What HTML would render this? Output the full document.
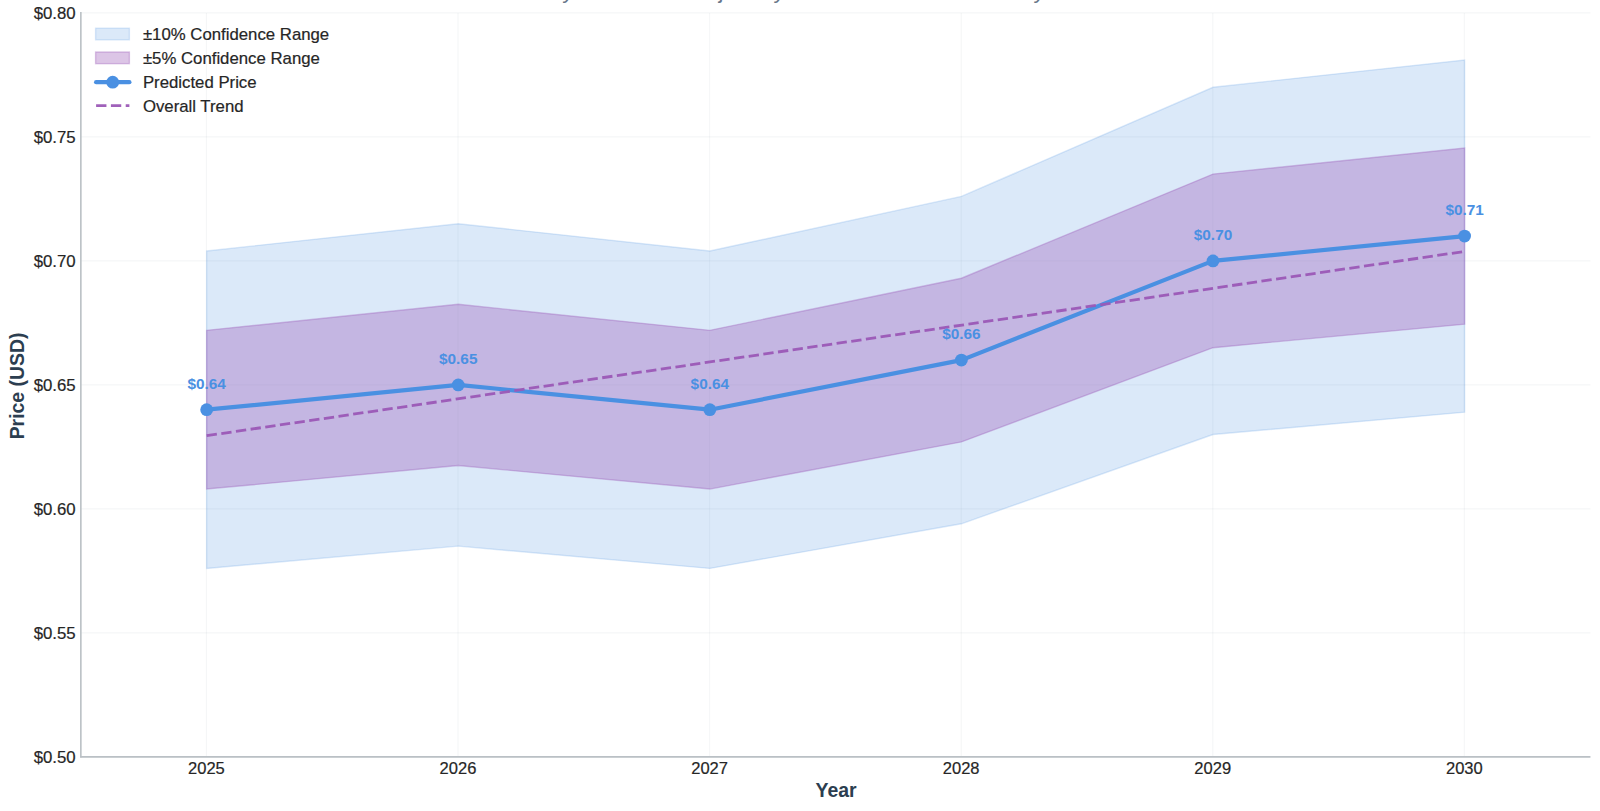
<!DOCTYPE html>
<html lang="en"><head><meta charset="utf-8"><title>Price Prediction Chart</title>
<style>
html,body{margin:0;padding:0;background:#fff;}
body{width:1600px;height:811px;overflow:hidden;font-family:"Liberation Sans",sans-serif;}
svg{display:block;font-family:"Liberation Sans",sans-serif;}
</style></head><body>
<svg width="1600" height="811" viewBox="0 0 1600 811">
<rect width="1600" height="811" fill="#ffffff"/>
<text x="511.7" y="-1.6" font-size="22.5" fill="#66778a">Yearly Estimated Trajectory with Forecast Uncertainty Intervals</text>
<g stroke="#b0b8bf" stroke-opacity="0.12" stroke-width="1.12"><line x1="206.45" x2="206.45" y1="12.90" y2="756.90"/><line x1="458.04" x2="458.04" y1="12.90" y2="756.90"/><line x1="709.63" x2="709.63" y1="12.90" y2="756.90"/><line x1="961.22" x2="961.22" y1="12.90" y2="756.90"/><line x1="1212.81" x2="1212.81" y1="12.90" y2="756.90"/><line x1="1464.40" x2="1464.40" y1="12.90" y2="756.90"/><line x1="80.85" x2="1590.40" y1="756.90" y2="756.90"/><line x1="80.85" x2="1590.40" y1="632.90" y2="632.90"/><line x1="80.85" x2="1590.40" y1="508.90" y2="508.90"/><line x1="80.85" x2="1590.40" y1="384.90" y2="384.90"/><line x1="80.85" x2="1590.40" y1="260.90" y2="260.90"/><line x1="80.85" x2="1590.40" y1="136.90" y2="136.90"/><line x1="80.85" x2="1590.40" y1="12.90" y2="12.90"/></g>
<polygon points="206.65,250.98 458.24,223.70 709.83,250.98 961.42,196.42 1213.01,87.30 1464.60,60.02 1464.60,412.18 1213.01,434.50 961.42,523.78 709.83,568.42 458.24,546.10 206.65,568.42" fill="#4a90e2" fill-opacity="0.2" stroke="#4a90e2" stroke-opacity="0.2" stroke-width="1.39"/>
<polygon points="206.65,330.34 458.24,304.30 709.83,330.34 961.42,278.26 1213.01,174.10 1464.60,148.06 1464.60,324.14 1213.01,347.70 961.42,441.94 709.83,489.06 458.24,465.50 206.65,489.06" fill="#9b59b6" fill-opacity="0.35" stroke="#9b59b6" stroke-opacity="0.35" stroke-width="1.39"/>
<polyline points="206.65,409.70 458.24,384.90 709.83,409.70 961.42,360.10 1213.01,260.90 1464.60,236.10" fill="none" stroke="#4a90e2" stroke-width="4.19" stroke-linejoin="round" stroke-linecap="butt"/>
<circle cx="206.65" cy="409.70" r="6.38" fill="#4a90e2"/>
<circle cx="458.24" cy="384.90" r="6.38" fill="#4a90e2"/>
<circle cx="709.83" cy="409.70" r="6.38" fill="#4a90e2"/>
<circle cx="961.42" cy="360.10" r="6.38" fill="#4a90e2"/>
<circle cx="1213.01" cy="260.90" r="6.38" fill="#4a90e2"/>
<circle cx="1464.60" cy="236.10" r="6.38" fill="#4a90e2"/>
<line x1="206.65" y1="435.68" x2="1464.60" y2="251.45" stroke="#9b59b6" stroke-opacity="0.95" stroke-width="2.8" stroke-dasharray="10.336 4.47"/>
<line x1="80.85" x2="80.85" y1="12.10" y2="757.60" stroke="#bac0c5" stroke-width="1.6"/>
<line x1="80.15" x2="1590.40" y1="756.90" y2="756.90" stroke="#bac0c5" stroke-width="1.6"/>
<text x="75.6" y="763.00" text-anchor="end" font-size="16.77" fill="#262626" stroke="#262626" stroke-width="0.2">$0.50</text>
<text x="75.6" y="639.00" text-anchor="end" font-size="16.77" fill="#262626" stroke="#262626" stroke-width="0.2">$0.55</text>
<text x="75.6" y="515.00" text-anchor="end" font-size="16.77" fill="#262626" stroke="#262626" stroke-width="0.2">$0.60</text>
<text x="75.6" y="391.00" text-anchor="end" font-size="16.77" fill="#262626" stroke="#262626" stroke-width="0.2">$0.65</text>
<text x="75.6" y="267.00" text-anchor="end" font-size="16.77" fill="#262626" stroke="#262626" stroke-width="0.2">$0.70</text>
<text x="75.6" y="143.00" text-anchor="end" font-size="16.77" fill="#262626" stroke="#262626" stroke-width="0.2">$0.75</text>
<text x="75.6" y="19.00" text-anchor="end" font-size="16.77" fill="#262626" stroke="#262626" stroke-width="0.2">$0.80</text>
<text x="206.40" y="773.6" text-anchor="middle" font-size="16.55" fill="#262626" stroke="#262626" stroke-width="0.2">2025</text>
<text x="457.99" y="773.6" text-anchor="middle" font-size="16.55" fill="#262626" stroke="#262626" stroke-width="0.2">2026</text>
<text x="709.58" y="773.6" text-anchor="middle" font-size="16.55" fill="#262626" stroke="#262626" stroke-width="0.2">2027</text>
<text x="961.17" y="773.6" text-anchor="middle" font-size="16.55" fill="#262626" stroke="#262626" stroke-width="0.2">2028</text>
<text x="1212.76" y="773.6" text-anchor="middle" font-size="16.55" fill="#262626" stroke="#262626" stroke-width="0.2">2029</text>
<text x="1464.35" y="773.6" text-anchor="middle" font-size="16.55" fill="#262626" stroke="#262626" stroke-width="0.2">2030</text>
<text x="836.12" y="797.2" text-anchor="middle" font-size="19.44" font-weight="bold" fill="#2c3e50">Year</text>
<text transform="translate(24.1 385.90) rotate(-90)" text-anchor="middle" font-size="19.44" font-weight="bold" fill="#2c3e50">Price (USD)</text>
<text x="206.65" y="389.10" text-anchor="middle" font-size="15.37" font-weight="bold" fill="#4a90e2">$0.64</text>
<text x="458.24" y="363.60" text-anchor="middle" font-size="15.37" font-weight="bold" fill="#4a90e2">$0.65</text>
<text x="709.83" y="389.10" text-anchor="middle" font-size="15.37" font-weight="bold" fill="#4a90e2">$0.64</text>
<text x="961.42" y="338.90" text-anchor="middle" font-size="15.37" font-weight="bold" fill="#4a90e2">$0.66</text>
<text x="1213.01" y="239.50" text-anchor="middle" font-size="15.37" font-weight="bold" fill="#4a90e2">$0.70</text>
<text x="1464.60" y="215.15" text-anchor="middle" font-size="15.37" font-weight="bold" fill="#4a90e2">$0.71</text>
<rect x="95.60" y="28.20" width="33.8" height="11.67" fill="#4a90e2" fill-opacity="0.2" stroke="#4a90e2" stroke-opacity="0.2" stroke-width="1.39"/>
<rect x="95.60" y="52.00" width="33.8" height="11.67" fill="#9b59b6" fill-opacity="0.35" stroke="#9b59b6" stroke-opacity="0.35" stroke-width="1.39"/>
<line x1="96.10" x2="129.40" y1="82.20" y2="82.20" stroke="#4a90e2" stroke-width="4.19" stroke-linecap="round"/>
<circle cx="112.70" cy="82.20" r="6.38" fill="#4a90e2"/>
<line x1="96.10" x2="129.40" y1="105.60" y2="105.60" stroke="#9b59b6" stroke-opacity="0.95" stroke-width="2.8" stroke-dasharray="10.336 4.47"/>
<text x="142.9" y="40.30" font-size="16.77" fill="#262626" stroke="#262626" stroke-width="0.2">±10% Confidence Range</text>
<text x="142.9" y="64.10" font-size="16.77" fill="#262626" stroke="#262626" stroke-width="0.2">±5% Confidence Range</text>
<text x="142.9" y="88.00" font-size="16.77" fill="#262626" stroke="#262626" stroke-width="0.2">Predicted Price</text>
<text x="142.9" y="111.80" font-size="16.77" fill="#262626" stroke="#262626" stroke-width="0.2">Overall Trend</text>
</svg></body></html>
